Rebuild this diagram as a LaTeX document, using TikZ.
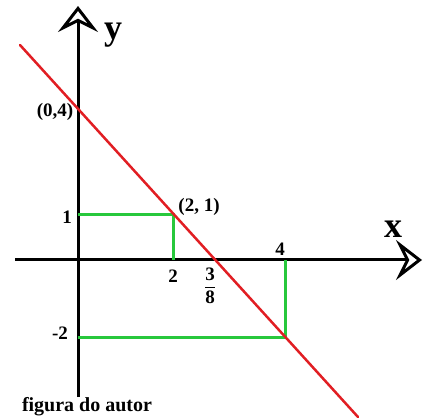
\documentclass[tikz,border=0pt]{standalone}
\usepackage{fontspec}
\usepackage{amsmath}
\setmainfont{Liberation Serif}
\usepackage{tikz}
\usetikzlibrary{arrows.meta, calc}
\definecolor{linered}{RGB}{225,30,35}
\definecolor{guidegreen}{RGB}{40,200,60}
\tikzset{
    axis/.style={line width=3pt, black, -{Stealth[open, length=26pt, width=40pt, inset=10pt, line width=3pt]}},
    redline/.style={line width=2.5pt, linered},
    guide/.style={line width=3pt, guidegreen},
    numlabel/.style={font=\fontsize{19}{21}\selectfont\bfseries, inner sep=0pt},
    axlabel/.style={font=\fontsize{36}{38}\selectfont\bfseries, inner sep=0pt}
}

\begin{document}
\begin{tikzpicture}[x=1pt, y=-1pt]
\useasboundingbox (0,0) rectangle (433,419);

% points
\coordinate (O) at (78,260);
\coordinate (ybot) at (78,397);
\coordinate (ytop) at (78,6);
\coordinate (xleft) at (15,260);
\coordinate (xright) at (422,260);
\coordinate (rstart) at (20,45);
\coordinate (rend) at (358,417);
\coordinate (p21) at (173,215);
\coordinate (t1) at (78,215);
\coordinate (t2) at (173,260);
\coordinate (t4) at (285,260);
\coordinate (tm2) at (78,337);
\coordinate (q) at (285,337);

% axes
\draw[axis] (ybot) -- (ytop);
\draw[axis] (xleft) -- (xright);

% green guides
\draw[guide] (t1) -- (p21) -- (t2);
\draw[guide] (tm2) -- (q) -- (t4);

% the line
\draw[redline, line cap=round] (rstart) -- (rend);

% labels
\node[axlabel] (ylab) at (113,35) {y};
\node[axlabel] (xlab) at (393,229) {x};
\node[numlabel] (l04) at (55,112) {(0,4)};
\node[numlabel] (l21) at (199,207) {(2, 1)};
\node[numlabel] (l1) at (67,217) {1};
\node[numlabel] (l2) at (173,276) {2};
\node[numlabel] (l38) at (210,286) {$\dfrac{\textbf{3}}{\textbf{8}}$};
\node[numlabel] (l4) at (280,249) {4};
\node[numlabel] (lm2) at (60,333) {-2};
\node[font=\fontsize{20}{22}\selectfont\bfseries, inner sep=0pt] (credit) at (87,407) {figura do autor};
\end{tikzpicture}
\end{document}
